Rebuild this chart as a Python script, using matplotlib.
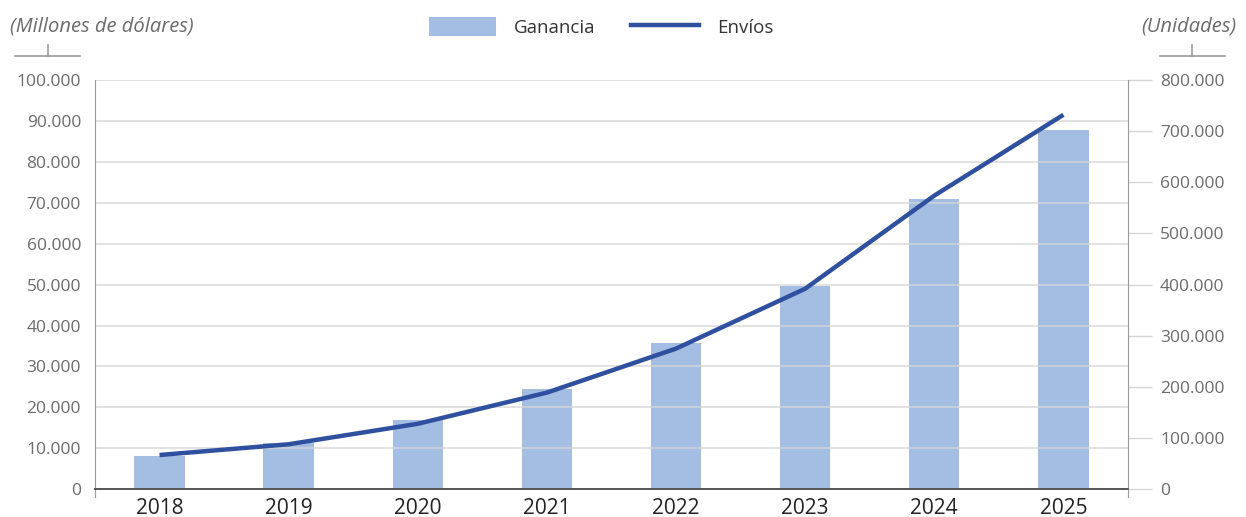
import matplotlib
matplotlib.use("Agg")
import matplotlib.pyplot as plt
from matplotlib.lines import Line2D
from matplotlib.patches import Patch

years = ["2018", "2019", "2020", "2021", "2022", "2023", "2024", "2025"]
ganancia = [8200, 11200, 16900, 24500, 35700, 49600, 70900, 87900]   # millones de dólares
envios = [67000, 88000, 128000, 189000, 275000, 392000, 574000, 732000]  # unidades

left_ticks = list(range(0, 100001, 10000))
right_ticks = list(range(0, 800001, 100000))

BAR = "#a3bde3"
LINE = "#2f4f9f"
GRID = "#d6d6d6"
SPINE = "#9a9a9a"
TXT = "#6b6b6b"

plt.rcParams["font.family"] = ["Open Sans", "DejaVu Sans"]


def fmt(v):
    return f"{v:,}".replace(",", ".")


fig = plt.figure(figsize=(12.46, 5.17), dpi=100)
ax = fig.add_axes([0.0762, 0.0536, 0.8291, 0.7917])
ax2 = ax.twinx()

x = list(range(len(years)))
ax.bar(x, ganancia, width=0.39, color=BAR, zorder=1)
ax.set_xlim(-0.5, len(years) - 0.5)
ax.set_ylim(0, 100000)
ax.set_yticks(left_ticks)
ax.set_yticklabels([fmt(v) for v in left_ticks])
for v in left_ticks[1:]:
    ax.axhline(v, color=GRID, lw=1.1, zorder=2, alpha=0.9)

ax.set_xticks(x)
ax.set_xticklabels(years)
ax.tick_params(axis="x", length=0, pad=6, labelsize=15, labelcolor="#222222")
ax.tick_params(axis="y", length=0, pad=10, labelsize=12.5, labelcolor=TXT)

ax2.plot(x, envios, color=LINE, lw=3.2, solid_capstyle="butt", zorder=3)
ax2.set_ylim(0, 800000)
ax2.set_yticks(right_ticks)
ax2.set_yticklabels([fmt(v) for v in right_ticks])
ax2.tick_params(axis="y", length=17, width=1, color=GRID, pad=6,
                labelsize=12.5, labelcolor=TXT)

for a in (ax, ax2):
    a.spines["top"].set_visible(False)
    a.spines["left"].set_color(SPINE)
    a.spines["right"].set_color(SPINE)
    a.spines["bottom"].set_color("#555555")
    a.spines["bottom"].set_linewidth(1.2)
ax2.spines["left"].set_visible(False)
ax.spines["right"].set_visible(False)
ax.spines["left"].set_bounds(-2000, 100000)
ax2.spines["right"].set_bounds(-16000, 800000)

# axis unit captions with their small bracket marks
fig.text(10 / 1246, 1 - 27 / 517, "(Millones de dólares)", style="italic",
         fontsize=14.5, color=TXT, ha="left", va="center")
fig.text(1236 / 1246, 1 - 27 / 517, "(Unidades)", style="italic",
         fontsize=14.5, color=TXT, ha="right", va="center")
for x0, x1, xm in ((15, 80, 48), (1160, 1225, 1192)):
    fig.add_artist(Line2D([x0 / 1246, x1 / 1246], [1 - 56 / 517] * 2,
                          color=SPINE, lw=1.2, transform=fig.transFigure))
    fig.add_artist(Line2D([xm / 1246] * 2, [1 - 56 / 517, 1 - 45 / 517],
                          color=SPINE, lw=1.2, transform=fig.transFigure))

handles = [Patch(facecolor=BAR, edgecolor="none"),
           Line2D([0], [0], color=LINE, lw=3.2)]
fig.legend(handles, ["Ganancia", "Envíos"], loc="center",
           bbox_to_anchor=(601 / 1246, 1 - 27 / 517), ncol=2, frameon=False,
           fontsize=13.5, handlelength=3.6, handleheight=1.15,
           columnspacing=1.9, handletextpad=0.95, labelcolor="#333333")

fig.savefig("out.png", dpi=100)
